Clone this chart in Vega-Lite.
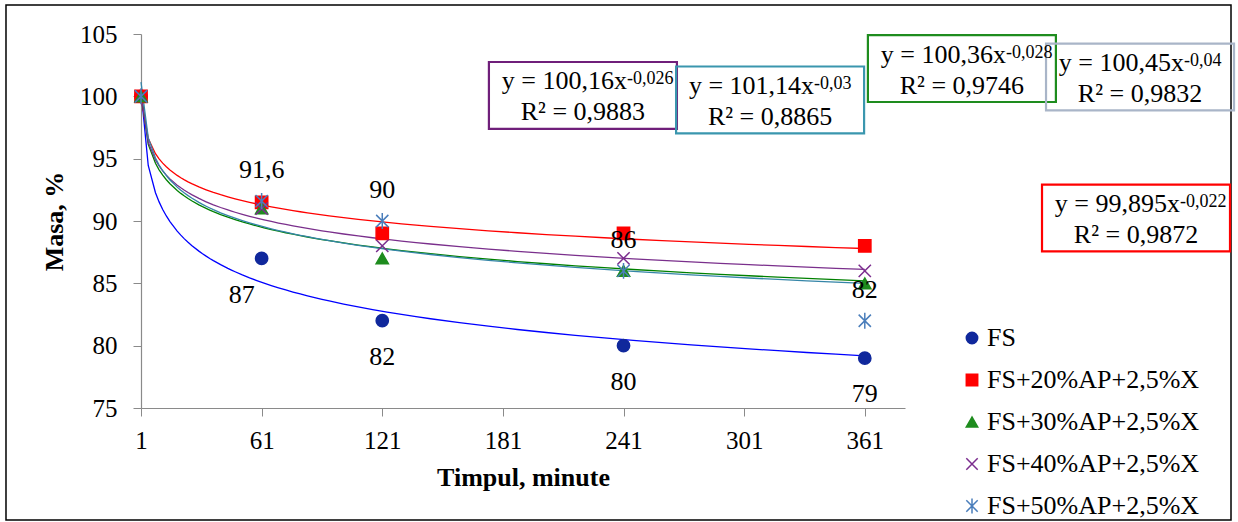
{
  "$schema": "https://vega.github.io/schema/vega-lite/v6.json",
  "width": 764,
  "height": 374,
  "autosize": "none",
  "padding": {"left": 141, "top": 34, "right": 333, "bottom": 114},
  "background": "white",
  "config": {
    "font": "Liberation Serif",
    "view": {"stroke": null},
    "locale": {"number": {"decimal": ",", "thousands": ".", "grouping": [3], "currency": ["", ""]}},
    "axis": {
      "labelFontSize": 25, "labelColor": "black", "titleFontSize": 26, "titleFontWeight": "bold", "titleColor": "black",
      "gridColor": "#8a8a8a", "domainColor": "#8a8a8a", "tickColor": "#8a8a8a", "tickSize": 8, "gridWidth": 1, "domainWidth": 1.2
    },
    "legend": {"labelLimit": 0}
  },
  "datasets": {
    "pts": [
      {"series": "FS", "t": 1, "m": 100},
      {"series": "FS", "t": 61, "m": 87},
      {"series": "FS", "t": 121, "m": 82},
      {"series": "FS", "t": 241, "m": 80},
      {"series": "FS", "t": 361, "m": 79},
      {"series": "FS+20%AP+2,5%X", "t": 1, "m": 100},
      {"series": "FS+20%AP+2,5%X", "t": 61, "m": 91.5},
      {"series": "FS+20%AP+2,5%X", "t": 121, "m": 89},
      {"series": "FS+20%AP+2,5%X", "t": 241, "m": 89},
      {"series": "FS+20%AP+2,5%X", "t": 361, "m": 88},
      {"series": "FS+30%AP+2,5%X", "t": 1, "m": 100},
      {"series": "FS+30%AP+2,5%X", "t": 61, "m": 91},
      {"series": "FS+30%AP+2,5%X", "t": 121, "m": 87},
      {"series": "FS+30%AP+2,5%X", "t": 241, "m": 86},
      {"series": "FS+30%AP+2,5%X", "t": 361, "m": 85},
      {"series": "FS+40%AP+2,5%X", "t": 1, "m": 100},
      {"series": "FS+40%AP+2,5%X", "t": 61, "m": 91},
      {"series": "FS+40%AP+2,5%X", "t": 121, "m": 88},
      {"series": "FS+40%AP+2,5%X", "t": 241, "m": 87},
      {"series": "FS+40%AP+2,5%X", "t": 361, "m": 86},
      {"series": "FS+50%AP+2,5%X", "t": 1, "m": 100},
      {"series": "FS+50%AP+2,5%X", "t": 61, "m": 91.6},
      {"series": "FS+50%AP+2,5%X", "t": 121, "m": 90},
      {"series": "FS+50%AP+2,5%X", "t": 241, "m": 86},
      {"series": "FS+50%AP+2,5%X", "t": 361, "m": 82}
    ],
    "eq": [
      {"series": "FS+40%AP+2,5%X", "bx": 220.8, "by": 100.07, "eq": "y = 100,16x", "exp": "-0,026", "r2": "R² = 0,9883"},
      {"series": "FS+50%AP+2,5%X", "bx": 313.9, "by": 99.71, "eq": "y = 101,14x", "exp": "-0,03", "r2": "R² = 0,8865"},
      {"series": "FS+30%AP+2,5%X", "bx": 409.3, "by": 102.23, "eq": "y = 100,36x", "exp": "-0,028", "r2": "R² = 0,9746"},
      {"series": "FS", "bx": 497.9, "by": 101.55, "eq": "y = 100,45x", "exp": "-0,04", "r2": "R² = 0,9832"},
      {"series": "FS+20%AP+2,5%X", "bx": 495.9, "by": 90.24, "eq": "y = 99,895x", "exp": "-0,022", "r2": "R² = 0,9872"}
    ]
  },
  "resolve": {"scale": {"color": "independent"}},
  "layer": [
    {
      "data": {"values": [{}]},
      "mark": {"type": "rect", "fill": "transparent", "stroke": "black", "strokeWidth": 1.5},
      "encoding": {
        "x": {"datum": -66.15, "type": "quantitative", "title": "Timpul, minute",
              "scale": {"domain": [1, 381], "nice": false, "zero": false},
              "axis": {"values": [1, 61, 121, 181, 241, 301, 361], "labelPadding": 12, "titlePadding": 11, "labelFlush": false}},
        "x2": {"datum": 543.15},
        "y": {"datum": 107.33, "type": "quantitative", "title": "Masa, %",
              "scale": {"domain": [75, 105], "nice": false, "zero": false},
              "axis": {"values": [75, 80, 85, 90, 95, 100, 105], "labelPadding": 16, "titlePadding": 12}},
        "y2": {"datum": 66.02}
      }
    },
    {
      "data": {"name": "pts"},
      "transform": [{"regression": "m", "on": "t", "groupby": ["series"], "method": "pow", "extent": [1, 361]}],
      "mark": {"type": "line", "strokeWidth": 1.3},
      "encoding": {
        "x": {"field": "t", "type": "quantitative", "title": "Timpul, minute"},
        "y": {"field": "m", "type": "quantitative", "title": "Masa, %"},
        "color": {"field": "series", "type": "nominal", "legend": null,
                  "scale": {"domain": ["FS", "FS+20%AP+2,5%X", "FS+30%AP+2,5%X", "FS+40%AP+2,5%X", "FS+50%AP+2,5%X"],
                            "range": ["#0000FF", "#FF0000", "#008000", "#7a2f8c", "#3585a8"]}}
      }
    },
    {
      "data": {"name": "pts"},
      "mark": {"type": "point", "filled": true, "size": 150, "strokeWidth": 1.5, "opacity": 1},
      "encoding": {
        "x": {"field": "t", "type": "quantitative", "title": "Timpul, minute"},
        "y": {"field": "m", "type": "quantitative", "title": "Masa, %"},
        "fill": {"field": "series", "type": "nominal",
                 "scale": {"domain": ["FS", "FS+20%AP+2,5%X", "FS+30%AP+2,5%X", "FS+40%AP+2,5%X", "FS+50%AP+2,5%X"],
                           "range": ["#10289c", "#FF0000", "#1e8c1e", "transparent", "transparent"]},
                 "legend": {"orient": "none", "legendX": 818, "legendY": 291, "title": null, "padding": 0,
                            "labelFontSize": 26, "labelColor": "black", "symbolSize": 130, "rowPadding": 16,
                            "labelOffset": 2, "symbolStrokeWidth": 1.5, "labelLimit": 0}},
        "stroke": {"field": "series", "type": "nominal",
                   "scale": {"domain": ["FS", "FS+20%AP+2,5%X", "FS+30%AP+2,5%X", "FS+40%AP+2,5%X", "FS+50%AP+2,5%X"],
                             "range": ["#10289c", "#FF0000", "#1e8c1e", "#7b2d8e", "#4a7ebb"]},
                   "legend": {"orient": "none", "legendX": 818, "legendY": 291, "title": null, "padding": 0,
                              "labelFontSize": 26, "labelColor": "black", "symbolSize": 130, "rowPadding": 16,
                              "labelOffset": 2, "symbolStrokeWidth": 1.5, "labelLimit": 0}},
        "shape": {"field": "series", "type": "nominal",
                  "scale": {"domain": ["FS", "FS+20%AP+2,5%X", "FS+30%AP+2,5%X", "FS+40%AP+2,5%X", "FS+50%AP+2,5%X"],
                            "range": ["circle", "square", "triangle-up", "M-1,-1L1,1M-1,1L1,-1", "M-1,-1L1,1M-1,1L1,-1M0,-1.3L0,1.3"]},
                  "legend": {"orient": "none", "legendX": 818, "legendY": 291, "title": null, "padding": 0,
                             "labelFontSize": 26, "labelColor": "black", "symbolSize": 130, "rowPadding": 16,
                             "labelOffset": 2, "symbolStrokeWidth": 1.5, "labelLimit": 0}}
      }
    },
    {
      "data": {"name": "pts"},
      "transform": [{"filter": "datum.series === 'FS+50%AP+2,5%X' && datum.t > 1"}],
      "mark": {"type": "text", "fontSize": 26, "color": "black", "baseline": "alphabetic", "align": "center", "dy": -23},
      "encoding": {
        "x": {"field": "t", "type": "quantitative", "title": "Timpul, minute"},
        "y": {"field": "m", "type": "quantitative", "title": "Masa, %"},
        "text": {"field": "m", "type": "quantitative", "format": ".1~f"}
      }
    },
    {
      "data": {"name": "pts"},
      "transform": [{"filter": "datum.series === 'FS' && datum.t > 61"}],
      "mark": {"type": "text", "fontSize": 26, "color": "black", "baseline": "alphabetic", "align": "center", "dy": 44},
      "encoding": {
        "x": {"field": "t", "type": "quantitative", "title": "Timpul, minute"},
        "y": {"field": "m", "type": "quantitative", "title": "Masa, %"},
        "text": {"field": "m", "type": "quantitative", "format": ".1~f"}
      }
    },
    {
      "data": {"name": "pts"},
      "transform": [{"filter": "datum.series === 'FS' && datum.t === 61"}],
      "mark": {"type": "text", "fontSize": 26, "color": "black", "baseline": "alphabetic", "align": "center", "dy": 45, "dx": -20},
      "encoding": {
        "x": {"field": "t", "type": "quantitative", "title": "Timpul, minute"},
        "y": {"field": "m", "type": "quantitative", "title": "Masa, %"},
        "text": {"field": "m", "type": "quantitative", "format": ".1~f"}
      }
    },
    {
      "data": {"name": "eq"},
      "transform": [{"filter": "datum.series === 'FS+40%AP+2,5%X' || datum.series === 'FS+50%AP+2,5%X'"}],
      "mark": {"type": "point", "shape": "M-1,-0.356H1V0.356H-1Z", "size": 35344, "filled": true, "fill": "white", "strokeOpacity": 0, "opacity": 1},
      "encoding": {
        "x": {"field": "bx", "type": "quantitative", "title": "Timpul, minute"},
        "y": {"field": "by", "type": "quantitative", "title": "Masa, %"}
      }
    },
    {
      "data": {"name": "eq"},
      "mark": {"type": "point", "shape": "M-1,-0.356H1V0.356H-1Z", "size": 35344, "filled": false, "strokeWidth": 2.2, "opacity": 1},
      "encoding": {
        "x": {"field": "bx", "type": "quantitative", "title": "Timpul, minute"},
        "y": {"field": "by", "type": "quantitative", "title": "Masa, %"},
        "color": {"field": "series", "type": "nominal", "legend": null,
                  "scale": {"domain": ["FS", "FS+20%AP+2,5%X", "FS+30%AP+2,5%X", "FS+40%AP+2,5%X", "FS+50%AP+2,5%X"],
                            "range": ["#a9b5c8", "#FF0000", "#1e8c1e", "#6f1f7a", "#3a96ae"]}}
      }
    },
    {
      "data": {"name": "eq"},
      "mark": {"type": "text", "fontSize": 26, "color": "black", "baseline": "alphabetic", "align": "right", "dx": 44, "dy": -6},
      "encoding": {
        "x": {"field": "bx", "type": "quantitative", "title": "Timpul, minute"},
        "y": {"field": "by", "type": "quantitative", "title": "Masa, %"},
        "text": {"field": "eq", "type": "nominal"}
      }
    },
    {
      "data": {"name": "eq"},
      "mark": {"type": "text", "fontSize": 18, "color": "black", "baseline": "alphabetic", "align": "left", "dx": 44, "dy": -11},
      "encoding": {
        "x": {"field": "bx", "type": "quantitative", "title": "Timpul, minute"},
        "y": {"field": "by", "type": "quantitative", "title": "Masa, %"},
        "text": {"field": "exp", "type": "nominal"}
      }
    },
    {
      "data": {"name": "eq"},
      "mark": {"type": "text", "fontSize": 26, "color": "black", "baseline": "alphabetic", "align": "center", "dy": 25},
      "encoding": {
        "x": {"field": "bx", "type": "quantitative", "title": "Timpul, minute"},
        "y": {"field": "by", "type": "quantitative", "title": "Masa, %"},
        "text": {"field": "r2", "type": "nominal"}
      }
    }
  ]
}
